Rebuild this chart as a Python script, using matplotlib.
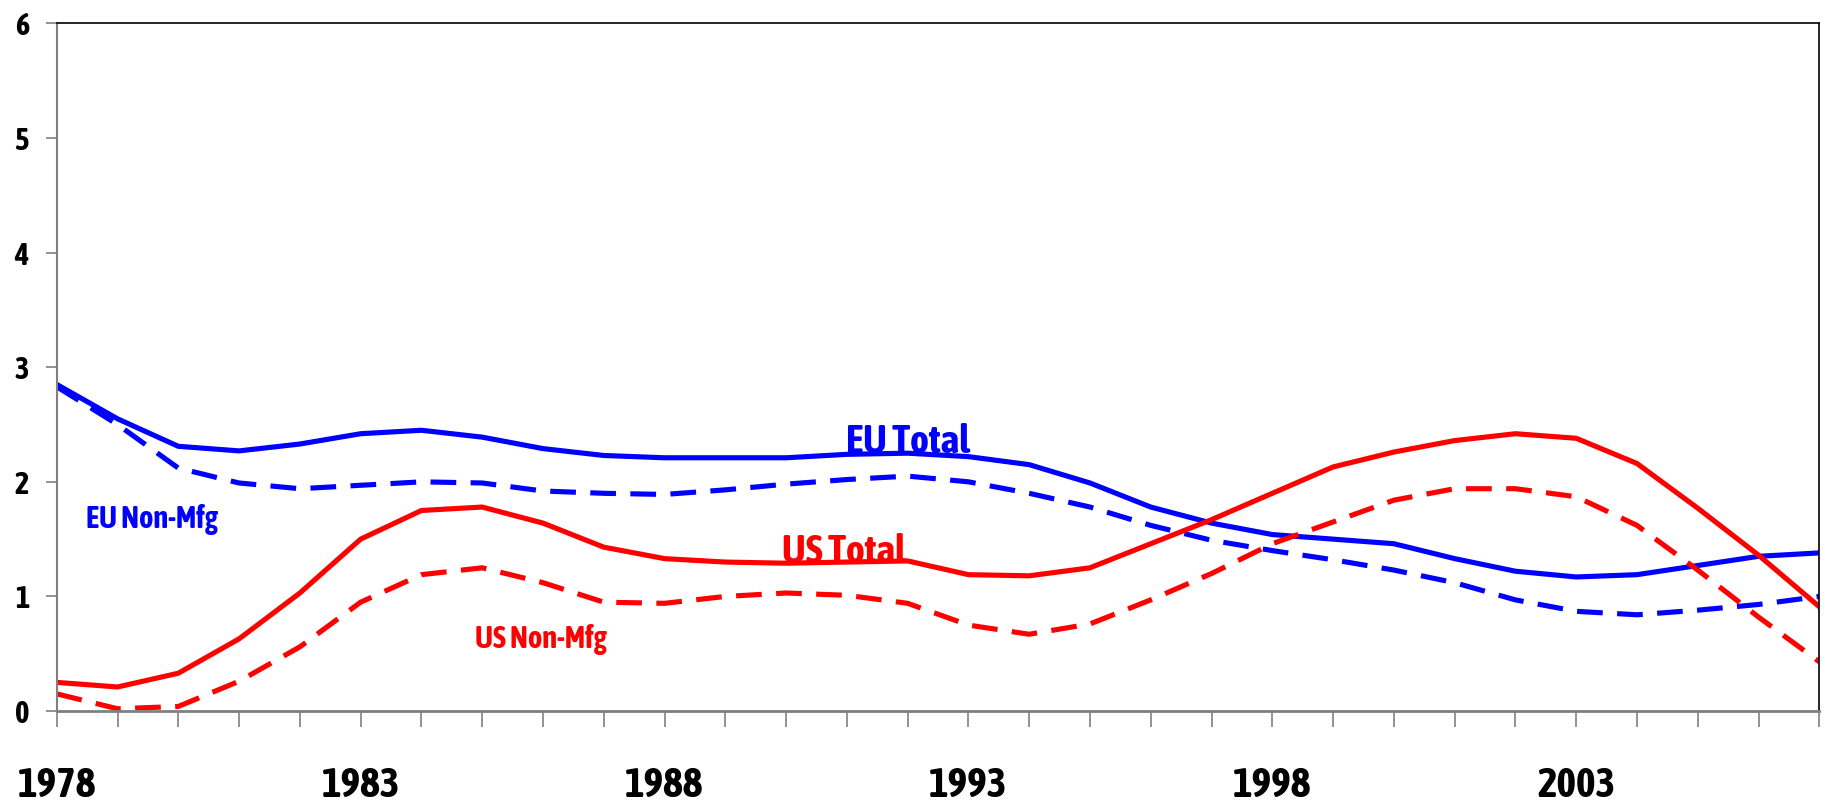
import numpy as np
import matplotlib
matplotlib.use('Agg')
import matplotlib.pyplot as plt
from matplotlib import font_manager

years = list(range(1978, 2008))

eu_total = [2.85, 2.55, 2.31, 2.27, 2.33, 2.42, 2.45, 2.39, 2.29, 2.23,
            2.21, 2.21, 2.21, 2.24, 2.25, 2.22, 2.15, 1.99, 1.78, 1.64,
            1.54, 1.50, 1.46, 1.33, 1.22, 1.17, 1.19, 1.27, 1.35, 1.38]
eu_nonmfg = [2.83, 2.50, 2.12, 1.99, 1.94, 1.97, 2.00, 1.99, 1.92, 1.90,
             1.89, 1.93, 1.98, 2.02, 2.05, 2.00, 1.90, 1.78, 1.62, 1.49,
             1.40, 1.32, 1.23, 1.12, 0.97, 0.87, 0.84, 0.88, 0.93, 1.00]
us_total = [0.25, 0.21, 0.33, 0.63, 1.03, 1.50, 1.75, 1.78, 1.64, 1.43,
            1.33, 1.30, 1.29, 1.30, 1.31, 1.19, 1.18, 1.25, 1.46, 1.67,
            1.90, 2.13, 2.26, 2.36, 2.42, 2.38, 2.16, 1.77, 1.36, 0.91]
us_nonmfg = [0.15, 0.02, 0.04, 0.26, 0.56, 0.95, 1.19, 1.25, 1.12, 0.95,
             0.94, 1.00, 1.03, 1.01, 0.94, 0.75, 0.67, 0.76, 0.97, 1.20,
             1.46, 1.65, 1.84, 1.94, 1.94, 1.87, 1.62, 1.23, 0.82, 0.43]

xlabels = [str(y) if (y - 1978) % 5 == 0 else '' for y in years]
yticks = [0, 1, 2, 3, 4, 5, 6]

# pick a narrow family that really has a bold face
wanted = ['Asap Condensed', 'Roboto Condensed', 'PT Sans Narrow',
          'Fira Sans Condensed', 'Saira SemiCondensed']
bold = set(f.name for f in font_manager.fontManager.ttflist
           if isinstance(f.weight, int) and f.weight >= 700)
family = [n for n in wanted if n in bold][:1] + ['DejaVu Sans']
plt.rcParams['font.family'] = family
plt.rcParams['font.weight'] = 'bold'

fig = plt.figure(figsize=(18.25, 8.08), dpi=100)
ax = fig.add_axes([0.0311, 0.12, 0.9658, 0.851])

dash = (0, (5, 2.8))
ax.plot(years, eu_total, color='#0000ff', linewidth=3.7)
ax.plot(years, eu_nonmfg, color='#0000ff', linewidth=3.7, linestyle=dash)
ax.plot(years, us_total, color='#ff0000', linewidth=3.7)
ax.plot(years, us_nonmfg, color='#ff0000', linewidth=3.7, linestyle=dash)

ax.text(1992.0, 2.25, 'EU Total', color='#0000ff', fontsize=29,
        fontweight='bold', ha='center', va='baseline')
ax.text(1990.95, 1.29, 'US Total', color='#ff0000', fontsize=29,
        fontweight='bold', ha='center', va='baseline')
ax.text(1979.57, 1.60, 'EU Non-Mfg', color='#0000ff', fontsize=22,
        fontweight='bold', ha='center', va='baseline')
ax.text(1985.97, 0.55, 'US Non-Mfg', color='#ff0000', fontsize=22,
        fontweight='bold', ha='center', va='baseline')

ax.set_xlim(1978, 2007)
ax.set_ylim(0, 6)
ax.set_xticks(years)
ax.set_xticklabels(xlabels, fontsize=30, fontweight='bold')
ax.set_yticks(yticks)
ax.set_yticklabels([str(v) for v in yticks], fontsize=22, fontweight='bold')

ax.tick_params(axis='x', length=11.5, width=1.2, color='#808080', pad=28)
ax.tick_params(axis='y', length=8, width=1.2, color='#808080', pad=12)

ax.spines['left'].set_color('#808080')
ax.spines['left'].set_linewidth(1.5)
ax.spines['bottom'].set_color('#808080')
ax.spines['bottom'].set_linewidth(2)
ax.spines['top'].set_color('black')
ax.spines['top'].set_linewidth(1.2)
ax.spines['right'].set_color('black')
ax.spines['right'].set_linewidth(1.2)

fig.savefig('out.png', dpi=100)
